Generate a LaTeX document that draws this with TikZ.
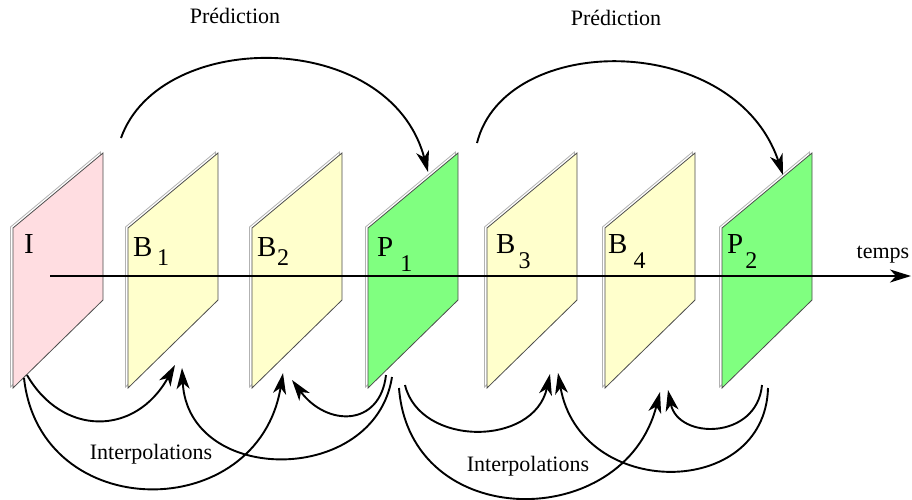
\documentclass[tikz,border=0pt]{standalone}
\usepackage{fontspec}
\setmainfont{Liberation Serif}
\usetikzlibrary{positioning,arrows.meta}

\definecolor{framepink}{RGB}{255,221,225}
\definecolor{frameyellow}{RGB}{255,255,204}
\definecolor{framegreen}{RGB}{128,255,128}

% letter with a lowered index
\newcommand{\flabel}[4]{#1\kern#2\raisebox{-#3}{\fontsize{24}{24}\selectfont #4}}

\begin{document}
\begin{tikzpicture}[x=1pt, y=-1pt, >=Stealth, every node/.style={font=\fontsize{22}{26}\selectfont, inner sep=0pt}]
  % Styles
  \tikzset{
    back/.style={draw=gray!60, fill=white, line width=0.8pt},
    face/.style={draw=black!70, line width=0.8pt},
    lbl/.style={anchor=base west, font=\fontsize{29}{32}\selectfont},
    axis/.style={-{Stealth[length=21pt, width=13pt, inset=6pt]}, line width=1.6pt},
    pred/.style={-{Stealth[length=21pt, width=13pt, inset=6pt]}, line width=1.9pt},
    interp/.style={pred}
  }
  \useasboundingbox (0,0) rectangle (912,499);

  % Frames (name / left x / colour)
  \foreach \name/\x/\col in {I/13/framepink, B1/128/frameyellow, B2/252/frameyellow,
      P1/368/framegreen, B3/487/frameyellow, B4/605/frameyellow, P2/722/framegreen}{
    \draw[back] (\x-2.5,227) -- (\x+87.5,152) -- (\x+87.5,299) -- (\x-2.5,387) -- cycle;
    \draw[face, fill=\col] (\x,228) -- (\x+90,153) -- (\x+90,300) -- (\x,388) -- cycle;
  }

  % Frame labels
  \node[lbl] (lI) at (24,253) {I};
  \node[lbl] (lB1) at (133,256) {\flabel{B}{4.7pt}{9pt}{1}};
  \node[lbl] (lB2) at (257,256) {\flabel{B}{0.5pt}{9pt}{2}};
  \node[lbl] (lP1) at (377,256) {\flabel{P}{7pt}{15pt}{1}};
  \node[lbl] (lB3) at (496,253) {\flabel{B}{3pt}{15pt}{3}};
  \node[lbl] (lB4) at (608,253) {\flabel{B}{6pt}{15pt}{4}};
  \node[lbl] (lP2) at (727,253) {\flabel{P}{2pt}{15pt}{2}};

  % Time axis
  \coordinate (t0) at (50,276);
  \coordinate (t1) at (911,276);
  \draw[axis] (t0) -- (t1);
  \node[anchor=base] (temps) at (883,258) {temps};

  % Arc end points
  \coordinate (I-pred) at (121,138);
  \coordinate (P1-top) at (428,172);
  \coordinate (P1-pred) at (477,143);
  \coordinate (P2-top) at (783,175);
  \coordinate (I-s1) at (27,375);
  \coordinate (I-s2) at (24,378);
  \coordinate (B1-t1) at (175,365);
  \coordinate (B1-t2) at (182,368);
  \coordinate (B2-t1) at (283,373);
  \coordinate (B2-t2) at (292,380);
  \coordinate (P1-s1) at (386,375);
  \coordinate (P1-s2) at (392,377);
  \coordinate (P1-s3) at (405,385);
  \coordinate (P1-s4) at (399,388);
  \coordinate (B3-t1) at (550,374);
  \coordinate (B3-t2) at (558,373);
  \coordinate (B4-t1) at (660,392);
  \coordinate (B4-t2) at (668,390);
  \coordinate (P2-s1) at (762,385);
  \coordinate (P2-s2) at (768,388);

  % Predictions
  \draw[pred] (I-pred) .. controls +(39,-110) and +(-38,-144) .. (P1-top);
  \draw[pred] (P1-pred) .. controls +(28,-112) and +(-48,-144) .. (P2-top);
  \node[anchor=base] (pred1) at (235,23) {Prédiction};
  \node[anchor=base] (pred2) at (616,25) {Prédiction};

  % Interpolations, first group
  \draw[interp] (I-s1) .. controls +(35,61) and +(-40,72) .. (B1-t1);
  \draw[interp] (I-s2) .. controls +(16,147) and +(-25,152) .. (B2-t1);
  \draw[interp] (P1-s2) .. controls +(-17,109) and +(6,118) .. (B1-t2);
  \draw[interp] (P1-s1) .. controls +(-6,52) and +(35,47) .. (B2-t2);
  \node[anchor=base] (int1) at (151,459) {Interpolations};

  % Interpolations, second group
  \draw[interp] (P1-s3) .. controls +(15,62) and +(-16,73) .. (B3-t1);
  \draw[interp] (P1-s4) .. controls +(11,145) and +(-36,141) .. (B4-t1);
  \draw[interp] (P2-s2) .. controls +(-3,112) and +(22,127) .. (B3-t2);
  \draw[interp] (P2-s1) .. controls +(-5,55) and +(10,50) .. (B4-t2);
  \node[anchor=base] (int2) at (528,471) {Interpolations};
\end{tikzpicture}
\end{document}
